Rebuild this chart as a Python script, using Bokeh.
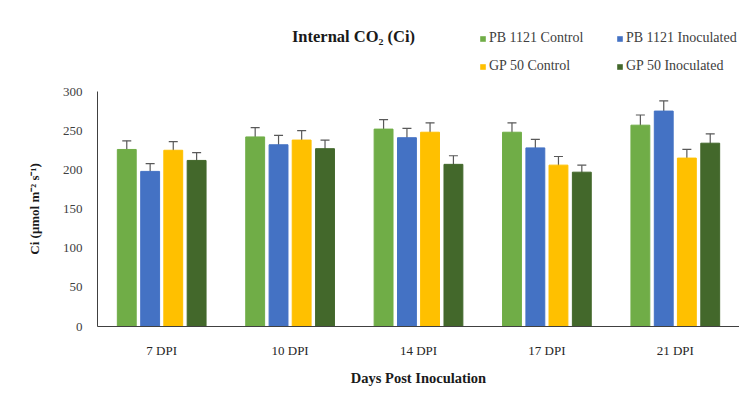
from bokeh.plotting import figure
from bokeh.layouts import column
from bokeh.models import (ColumnDataSource, FactorRange, Whisker, TeeHead, Legend,
                          LegendItem, FixedTicker, Range1d, Label)
from bokeh.transform import dodge
from bokeh.embed import file_html
from bokeh.resources import INLINE

# ---- data ----
dpi = ["7 DPI", "10 DPI", "14 DPI", "17 DPI", "21 DPI"]
series_names = ["PB 1121 Control", "PB 1121 Inoculated", "GP 50 Control", "GP 50 Inoculated"]
pb_control = [226, 242, 252, 248, 257]
pb_control_err = [11, 12, 12, 12, 13]
pb_inoc = [198, 232, 241, 228, 275]
pb_inoc_err = [10, 12, 12, 11, 13]
gp_control = [225, 238, 248, 206, 215]
gp_control_err = [11, 12, 12, 11, 11]
gp_inoc = [212, 227, 207, 197, 234]
gp_inoc_err = [10, 11, 11, 9, 12]
y_ticks = [0, 50, 100, 150, 200, 250, 300]

colors = ["#70AD47", "#4472C4", "#FFC000", "#43682B"]
offsets = [-0.272, -0.09, 0.09, 0.272]
values = [pb_control, pb_inoc, gp_control, gp_inoc]
errors = [pb_control_err, pb_inoc_err, gp_control_err, gp_inoc_err]

FONT = "Liberation Serif"
W = 739
HEAD_H = 80
FRAME_L = 97

# ---- header: title + legend (its frame is aligned with the chart frame) ----
head = figure(width=W, height=HEAD_H, x_range=Range1d(FRAME_L, W), y_range=Range1d(0, HEAD_H),
              min_border=0, output_backend="svg", toolbar_location=None,
              background_fill_color="white", border_fill_color="white")
head.axis.visible = False
head.grid.visible = False
head.outline_line_color = None
head.add_layout(Label(x=353, y=HEAD_H - 36, text="Internal CO\u2082 (Ci)", text_font=FONT,
                      text_font_size="16.5px", text_font_style="bold", text_align="center",
                      text_baseline="middle", text_color="#1a1a1a"))
# legend locations: screen pixels from the header frame's bottom-left corner
leg_pos = [(382, 33), (519, 33), (382, 5), (519, 5)]
for name, col, pos in zip(series_names, colors, leg_pos):
    proxy_src = ColumnDataSource(dict(x=[FRAME_L], top=[0]))
    proxy = head.vbar(x="x", top="top", bottom=0, width=0, source=proxy_src,
                      fill_color=col, line_color=None)
    lg = Legend(items=[LegendItem(label=name, renderers=[proxy])], location=pos,
                glyph_width=7, glyph_height=7, label_standoff=3, padding=0, margin=0,
                border_line_color=None, background_fill_alpha=0,
                label_text_font=FONT, label_text_font_size="14px",
                label_text_color="#404040", label_height=18)
    head.add_layout(lg, "center")

# ---- main chart ----
p = figure(x_range=FactorRange(*dpi, range_padding=0), y_range=(0, 300),
           frame_width=642, frame_height=235,
           min_border_left=FRAME_L, min_border_right=0, min_border_top=11, min_border_bottom=70,
           output_backend="svg", toolbar_location=None, background_fill_color="white",
           border_fill_color="white")
p.outline_line_color = None
p.xgrid.grid_line_color = None
p.ygrid.grid_line_color = None

for name, vals, errs, col, off in zip(series_names, values, errors, colors, offsets):
    src = ColumnDataSource(dict(dpi=dpi, val=vals,
                                lo=[v - e for v, e in zip(vals, errs)],
                                hi=[v + e for v, e in zip(vals, errs)]))
    p.vbar(x=dodge("dpi", off, range=p.x_range), top="val", width=0.147, source=src,
           fill_color=col, line_color=col)
    w = Whisker(source=src, base=dodge("dpi", off, range=p.x_range), upper="hi", lower="lo",
                line_color="#595959", line_width=1.2,
                upper_head=TeeHead(size=9, line_color="#595959", line_width=1.2),
                lower_head=TeeHead(size=9, line_color="#595959", line_width=1.2))
    p.add_layout(w)

p.yaxis.ticker = FixedTicker(ticks=y_ticks)
for ax in (p.xaxis, p.yaxis):
    ax.major_tick_line_color = None
    ax.minor_tick_line_color = None
    ax.major_tick_out = 0
    ax.major_tick_in = 0
    ax.axis_line_color = "#404040"
    ax.major_label_text_font = FONT
    ax.major_label_text_font_size = "13px"
    ax.axis_label_text_font = FONT
    ax.axis_label_text_font_style = "bold"
    ax.axis_label_text_color = "#1a1a1a"
p.yaxis.major_label_text_color = "#404040"
p.xaxis.major_label_text_color = "#262626"
p.yaxis.major_label_standoff = 15
p.xaxis.major_label_standoff = 16
p.xaxis.axis_label = "Days Post Inoculation"
p.xaxis.axis_label_text_font_size = "14.5px"
p.xaxis.axis_label_standoff = 9
p.yaxis.axis_label = "Ci (\u03bcmol m\u207b\u00b2 s\u207b\u00b9)"
p.yaxis.axis_label_text_font_size = "13px"
p.yaxis.axis_label_standoff = 18

layout = column(head, p, spacing=0)
open("out.html", "w").write(file_html(layout, INLINE))
